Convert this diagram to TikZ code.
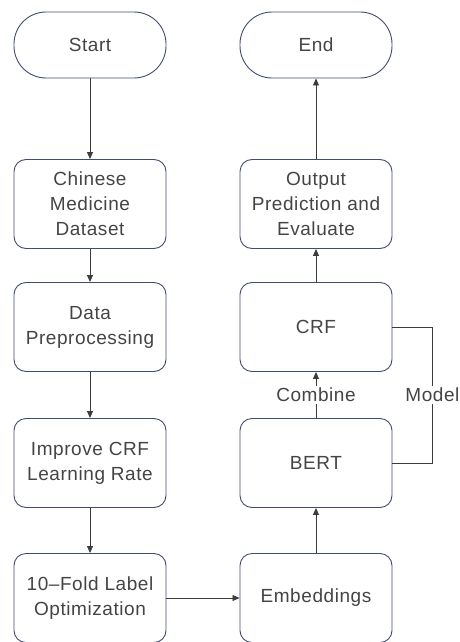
\documentclass[tikz,border=0pt]{standalone}
\usepackage{fontspec}
\setmainfont[LetterSpace=3]{Liberation Sans}
\usetikzlibrary{calc,arrows.meta}
\definecolor{boxline}{RGB}{66,76,110}
\definecolor{linkline}{RGB}{60,60,60}
\definecolor{labeltext}{RGB}{68,68,68}

\begin{document}
\begin{tikzpicture}[x=1pt,y=-1pt,every node/.style={text=labeltext,font=\fontsize{19}{25}\selectfont,align=center},box/.style={draw=boxline,line width=0.9pt,rounded corners=12pt,minimum width=152pt,minimum height=89pt,inner sep=0pt},terminal/.style={draw=boxline,line width=0.9pt,rounded corners=32pt,minimum width=152pt,minimum height=66pt,inner sep=0pt},link/.style={draw=linkline,line width=0.8pt,-{Triangle[length=7pt,width=6pt]}}]
      \useasboundingbox (0,0) rectangle (459,642);
      \node[terminal] (start) at (90,45) {Start};
      \node[box] (dataset) at (90,204) {Chinese\\Medicine\\Dataset};
      \node[box] (preprocess) at (90,327) {Data\\Preprocessing};
      \node[box] (learning rate) at (90,463) {Improve CRF\\Learning Rate};
      \node[box] (label opt) at (90,598) {10--Fold Label\\Optimization};

      \node[box] (embeddings) at (316,598) {Embeddings};
      \node[box] (bert) at (316,463) {BERT};
      \node[box] (crf) at (316,327) {CRF};
      \node[box] (output) at (316,204) {Output\\Prediction and\\Evaluate};
      \node[terminal] (end) at (316,45) {End};

      \draw[link] (start) -- (dataset);
      \draw[link] (dataset) -- (preprocess);
      \draw[link] (preprocess) -- (learning rate);
      \draw[link] (learning rate) -- (label opt);
      \draw[link] (label opt) -- (embeddings);
      \draw[link] (embeddings) -- (bert);
      \draw[link] (bert) -- node[fill=white,inner sep=2pt] (combine) {Combine} (crf);
      \draw[link] (crf) -- (output);
      \draw[link] (output) -- (end);

      \coordinate (model top) at ($ (crf.east) + (40,0) $);
      \coordinate (model bottom) at ($ (bert.east) + (40,0) $);
      \draw[draw=linkline,line width=0.8pt] (crf.east) -- (model top) -- node[fill=white,inner sep=2pt] (model) {Model} (model bottom) -- (bert.east);
    \end{tikzpicture}
\end{document}
